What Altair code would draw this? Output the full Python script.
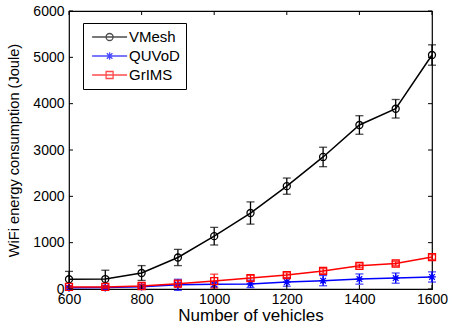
import altair as alt
import pandas as pd

# Number of vehicles on the x axis
vehicles = [600, 700, 800, 900, 1000, 1100, 1200, 1300, 1400, 1500, 1600]

# Mean WiFi energy consumption (Joule) and error-bar half widths per scheme
vmesh = [210, 215, 345, 680, 1140, 1640, 2220, 2850, 3540, 3890, 5050]
vmesh_err = [170, 190, 160, 175, 190, 240, 175, 210, 200, 200, 220]
quvod = [25, 30, 50, 90, 100, 110, 150, 180, 215, 235, 260]
quvod_err = [40, 30, 40, 120, 60, 80, 90, 110, 110, 110, 110]
grims = [45, 45, 65, 115, 170, 235, 300, 390, 500, 550, 690]
grims_err = [30, 30, 40, 60, 150, 60, 50, 50, 40, 40, 50]

series_names = ["VMesh", "QUVoD", "GrIMS"]
series_colors = ["#000000", "#0000FF", "#FF0000"]

y_ticks = [0, 1000, 2000, 3000, 4000, 5000, 6000]
x_ticks = [600, 800, 1000, 1200, 1400, 1600]

rows = []
for name, vals, errs in [("VMesh", vmesh, vmesh_err),
                         ("QUVoD", quvod, quvod_err),
                         ("GrIMS", grims, grims_err)]:
    for v, m, e in zip(vehicles, vals, errs):
        rows.append({"series": name, "vehicles": v, "energy": m,
                     "lo": m - e, "hi": m + e})
df = pd.DataFrame(rows)

FONT = "Liberation Sans"
W, H = 363, 278

# marker paths (unit coordinates)
CIRCLE = "M0.2,0A0.2,0.2 0 1 1 -0.2,0A0.2,0.2 0 1 1 0.2,0"
STAR = ("M0,-0.22V0.22M-0.22,0H0.22M-0.16,-0.16L0.16,0.16"
        "M-0.16,0.16L0.16,-0.16")
SQUARE = "M-0.2,-0.2H0.2V0.2H-0.2Z"
MARKERS = [CIRCLE, STAR, SQUARE]

# legend symbols: a 35px line with the marker in its middle (7px per unit);
# the nominal symbol box stays 14px so the rows stay compact, and the
# drawing is shifted right so the line starts near the box's left edge
LX0, LX1 = -0.7, 4.3
CX = (LX0 + LX1) / 2
LEG_CIRCLE = f"M{CX + 0.5},0A0.5,0.5 0 1 1 {CX - 0.5},0A0.5,0.5 0 1 1 {CX + 0.5},0"
LEG_STAR = (f"M{CX},-0.55V0.55M{CX - 0.55},0H{CX + 0.55}"
            f"M{CX - 0.4},-0.4L{CX + 0.4},0.4M{CX - 0.4},0.4L{CX + 0.4},-0.4")
LEG_SQUARE = f"M{CX - 0.5},-0.5H{CX + 0.5}V0.5H{CX - 0.5}Z"
LEG_SHAPES = [f"M{LX0},0H{LX1}" + p for p in [LEG_CIRCLE, LEG_STAR, LEG_SQUARE]]

x_scale = alt.Scale(domain=[600, 1600], nice=False, padding=0)
y_scale = alt.Scale(domain=[0, 6000], nice=False, padding=0)

x_axis = alt.Axis(values=x_ticks, title="Number of vehicles",
                  format="d", ticks=False, domain=False, grid=False,
                  labelFlush=False, labelOverlap=False,
                  labelFont=FONT, labelFontSize=14, labelPadding=3,
                  labelColor="black", titleFont=FONT,
                  titleFontSize=17, titleFontWeight="normal",
                  titleColor="black", titlePadding=1)
y_axis = alt.Axis(values=y_ticks, title="WiFi energy consumption (Joule)",
                  format="d", ticks=False, domain=False, grid=False,
                  labelFlush=False, labelOverlap=False,
                  labelFont=FONT, labelFontSize=14, labelPadding=5,
                  labelColor="black", titleFont=FONT, titleFontSize=14.6,
                  titleFontWeight="normal", titleColor="black",
                  titlePadding=11)

base = alt.Chart(df)

# legend-only layer: no rows pass the filter, the scales carry the entries
legend_layer = base.transform_filter("false").mark_point(
    filled=False, strokeWidth=1.3).encode(
    x=alt.X("vehicles:Q", scale=x_scale, axis=x_axis),
    y=alt.Y("energy:Q", scale=y_scale, axis=y_axis),
    color=alt.Color("series:N",
                    scale=alt.Scale(domain=series_names, range=series_colors),
                    legend=alt.Legend(
                        title=None, orient="none", legendX=14, legendY=12,
                        symbolSize=196, symbolStrokeWidth=1.3,
                        labelFont=FONT, labelFontSize=15, labelColor="black",
                        labelOffset=24, strokeColor="black", fillColor="white",
                        padding=6, rowPadding=3, offset=0)),
    shape=alt.Shape("series:N",
                    scale=alt.Scale(domain=series_names, range=LEG_SHAPES),
                    legend=alt.Legend(title=None, orient="none",
                                      legendX=14, legendY=12)),
)

layers = [legend_layer]
for name, color, marker in zip(series_names, series_colors, MARKERS):
    s = base.transform_filter(alt.datum.series == name)
    layers.append(s.mark_line(strokeWidth=1.5, color=color).encode(
        x="vehicles:Q", y="energy:Q"))
    layers.append(s.mark_rule(strokeWidth=1.3, color=color).encode(
        x="vehicles:Q", y="lo:Q", y2="hi:Q"))
    layers.append(s.mark_tick(orient="horizontal", size=8, thickness=1.3,
                              color=color).encode(x="vehicles:Q", y="lo:Q"))
    layers.append(s.mark_tick(orient="horizontal", size=8, thickness=1.3,
                              color=color).encode(x="vehicles:Q", y="hi:Q"))
    layers.append(s.mark_point(filled=False, strokeWidth=1.3, size=1225,
                               opacity=1, color=color, shape=marker).encode(
        x="vehicles:Q", y="energy:Q"))

# inward tick marks on all four sides of the box
ytick_df = pd.DataFrame({"t": y_ticks})
xtick_df = pd.DataFrame({"t": x_ticks})
layers += [
    alt.Chart(ytick_df).mark_rule(color="black", strokeWidth=1).encode(
        y="t:Q", x=alt.value(0), x2=alt.value(4)),
    alt.Chart(ytick_df).mark_rule(color="black", strokeWidth=1).encode(
        y="t:Q", x=alt.value(W - 4), x2=alt.value(W)),
    alt.Chart(xtick_df).mark_rule(color="black", strokeWidth=1).encode(
        x="t:Q", y=alt.value(H - 4), y2=alt.value(H)),
    alt.Chart(xtick_df).mark_rule(color="black", strokeWidth=1).encode(
        x="t:Q", y=alt.value(0), y2=alt.value(4)),
]

chart = alt.layer(*layers).properties(
    width=W, height=H,
    autosize=alt.AutoSizeParams(type="none"),
    padding={"left": 69, "top": 11, "right": 18, "bottom": 37},
    background="white",
).configure_view(stroke="black", strokeWidth=1.2)

chart.save("out.html", embed_options={"renderer": "svg", "actions": False})
